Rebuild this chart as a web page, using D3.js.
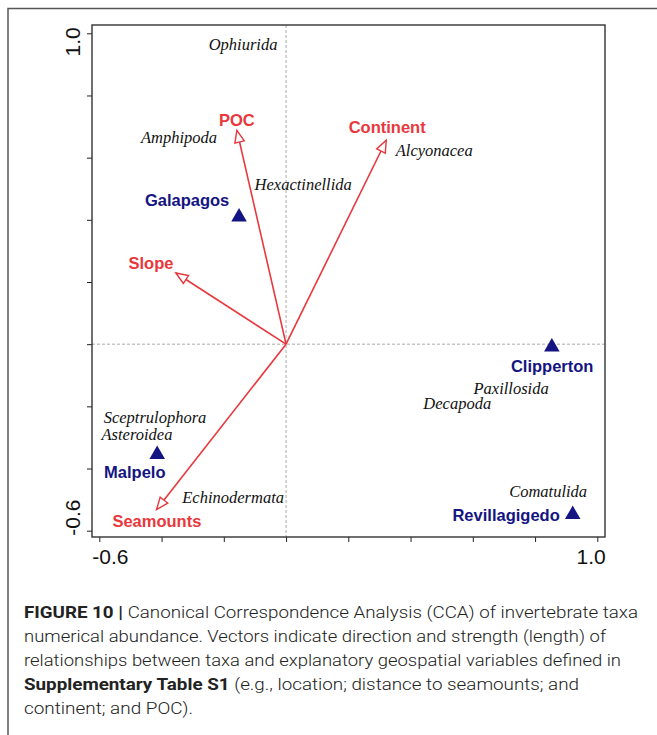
<!DOCTYPE html>
<html><head><meta charset="utf-8">
<script src="https://cdn.jsdelivr.net/npm/d3@7"></script>
<style>html,body{margin:0;padding:0;background:#fff;}svg{display:block;}</style>
</head><body>
<script>
// ---- data ----
const axisTicks = [-0.6, -0.4, -0.2, 0, 0.2, 0.4, 0.6, 0.8, 1.0];
const labelledTicks = [-0.6, 1.0];

const envNames = ["POC", "Continent", "Slope", "Seamounts"];
const envX = [-0.158, 0.322, -0.354, -0.416];
const envY = [0.688, 0.656, 0.229, -0.532];
const envLabelX = [-0.158, 0.325, -0.434, -0.415];
const envLabelY = [0.720, 0.698, 0.260, -0.569];

const siteNames = ["Galapagos", "Clipperton", "Malpelo", "Revillagigedo"];
const siteX = [-0.151, 0.854, -0.414, 0.921];
const siteY = [0.412, -0.006, -0.352, -0.545];
const siteLabelX = [-0.318, 0.855, -0.486, 0.707];
const siteLabelY = [0.463, -0.072, -0.413, -0.550];

const taxaNames = ["Ophiurida", "Amphipoda", "Hexactinellida", "Alcyonacea", "Paxillosida",
  "Decapoda", "Sceptrulophora", "Asteroidea", "Echinodermata", "Comatulida"];
const taxaX = [-0.138, -0.344, 0.055, 0.476, 0.723, 0.550, -0.421, -0.479, -0.170, 0.842];
const taxaY = [0.961, 0.662, 0.511, 0.621, -0.145, -0.193, -0.238, -0.293, -0.495, -0.476];

const captionLines = [
  [["FIGURE 10 | ", true], ["Canonical Correspondence Analysis (CCA) of invertebrate taxa", false]],
  [["numerical abundance. Vectors indicate direction and strength (length) of", false]],
  [["relationships between taxa and explanatory geospatial variables defined in", false]],
  [["Supplementary Table S1", true], [" (e.g., location; distance to seamounts; and", false]],
  [["continent; and POC).", false]]
];
const captionWidths = [614, 582, 597, 555, 169];

// ---- layout ----
const W = 657, H = 735;
const box = {left: 92, right: 605, top: 25, bottom: 537};
const RED = "#e8383d", NAVY = "#141482";

const svg = d3.select("body").append("svg").attr("width", W).attr("height", H);

// figure frame
svg.append("path").attr("d", `M8,${H} L8,8.5 L${W},8.5`)
  .attr("fill", "none").attr("stroke", "#555").attr("stroke-width", 1.5);

const x = d3.scaleLinear().domain([-0.6, 1.0]).range([99.3, 597.3]);
const y = d3.scaleLinear().domain([-0.6, 1.0]).range([530.7, 33.3]);

// reference lines
svg.append("line").attr("x1", x(0)).attr("x2", x(0)).attr("y1", box.top).attr("y2", box.bottom)
  .attr("stroke", "#aaa").attr("stroke-width", 1).attr("stroke-dasharray", "3,2");
svg.append("line").attr("y1", y(0)).attr("y2", y(0)).attr("x1", box.left).attr("x2", box.right)
  .attr("stroke", "#aaa").attr("stroke-width", 1).attr("stroke-dasharray", "3,2");

// axes
const fmt = d => labelledTicks.includes(d) ? d.toFixed(1) : "";
const gx = svg.append("g").attr("transform", `translate(0,${box.bottom})`)
  .call(d3.axisBottom(x).tickValues(axisTicks).tickFormat(fmt).tickSize(5).tickSizeOuter(0));
const gy = svg.append("g").attr("transform", `translate(${box.left},0)`)
  .call(d3.axisLeft(y).tickValues(axisTicks).tickFormat(fmt).tickSize(5).tickSizeOuter(0));
[gx, gy].forEach(g => {
  g.select(".domain").remove();
  g.selectAll(".tick line").attr("stroke", "#222").attr("stroke-width", 1);
  g.selectAll(".tick text").attr("fill", "#111")
    .style("font-family", "'Liberation Sans', Arial, sans-serif").style("font-size", "21px");
});
gx.selectAll(".tick text").attr("y", 12).attr("dy", "0.71em")
  .attr("text-anchor", d => d < 0 ? "start" : "end")
  .attr("dx", d => d < 0 ? -7.5 : 8);
gy.selectAll(".tick text")
  .attr("dy", null)
  .attr("transform", "rotate(-90)")
  .attr("x", d => d < 0 ? -4.5 : 6.5)
  .attr("y", -12)
  .attr("text-anchor", d => d < 0 ? "start" : "end");

// box
svg.append("rect").attr("x", box.left).attr("y", box.top)
  .attr("width", box.right - box.left).attr("height", box.bottom - box.top)
  .attr("fill", "none").attr("stroke", "#333").attr("stroke-width", 1.4);

// taxa labels
svg.append("g").selectAll("text").data(taxaNames).join("text")
  .attr("x", (d, i) => x(taxaX[i])).attr("y", (d, i) => y(taxaY[i]))
  .attr("dy", "0.3em").attr("text-anchor", "middle")
  .style("font-family", "'Liberation Serif', 'Times New Roman', serif")
  .style("font-style", "italic").style("font-size", "16.5px").attr("fill", "#111")
  .text(d => d);

// env vectors
const gv = svg.append("g");
envNames.forEach((n, i) => {
  const x0 = x(0), y0 = y(0), x1 = x(envX[i]), y1 = y(envY[i]);
  gv.append("line").attr("x1", x0).attr("y1", y0).attr("x2", x1).attr("y2", y1)
    .attr("stroke", RED).attr("stroke-width", 1.6);
  const ang = Math.atan2(y1 - y0, x1 - x0);
  const L = 12, hw = 4.8;
  const bx = x1 - L * Math.cos(ang), by = y1 - L * Math.sin(ang);
  const px = -Math.sin(ang) * hw, py = Math.cos(ang) * hw;
  gv.append("path")
    .attr("d", `M${x1},${y1} L${bx + px},${by + py} L${bx - px},${by - py} Z`)
    .attr("fill", "#fff").attr("stroke", RED).attr("stroke-width", 1.4).attr("stroke-linejoin", "miter");
  gv.append("text").attr("x", x(envLabelX[i])).attr("y", y(envLabelY[i]))
    .attr("dy", "0.35em").attr("text-anchor", "middle")
    .style("font-family", "'Liberation Sans', Arial, sans-serif")
    .style("font-weight", "bold").style("font-size", "16.5px").attr("fill", RED)
    .text(n);
});

// sites
const tri = d3.symbol().type(d3.symbolTriangle).size(105);
svg.append("g").selectAll("path").data(siteNames).join("path")
  .attr("transform", (d, i) => `translate(${x(siteX[i])},${y(siteY[i]) + 1})`)
  .attr("d", tri).attr("fill", NAVY);
svg.append("g").selectAll("text").data(siteNames).join("text")
  .attr("x", (d, i) => x(siteLabelX[i])).attr("y", (d, i) => y(siteLabelY[i]))
  .attr("dy", "0.35em").attr("text-anchor", "middle")
  .style("font-family", "'Liberation Sans', Arial, sans-serif")
  .style("font-weight", "bold").style("font-size", "16.5px").attr("fill", NAVY)
  .text(d => d);

// caption
const cap = svg.append("g");
captionLines.forEach((parts, i) => {
  const t = cap.append("text").attr("x", 24).attr("y", 618 + i * 24)
    .attr("textLength", captionWidths[i]).attr("lengthAdjust", "spacingAndGlyphs")
    .style("font-family", "Roboto, 'Liberation Sans', Arial, sans-serif")
    .style("font-size", "16.5px").attr("fill", "#222");
  parts.forEach(([s, b]) => {
    t.append("tspan").text(s).style("font-weight", b ? "bold" : "300");
  });
});
</script>
</body></html>
